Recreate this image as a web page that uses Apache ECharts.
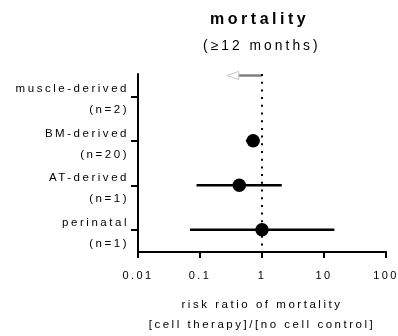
<!DOCTYPE html>
<html>
<head>
<meta charset="utf-8">
<script src="https://cdn.jsdelivr.net/npm/echarts@6/dist/echarts.min.js"></script>
<style>
  html, body { margin: 0; padding: 0; background: #fff; }
  #chart { width: 398px; height: 336px; }
</style>
</head>
<body>
<div id="chart"></div>
<script>
// Cell source groups and number of studies in each
const groups = ['muscle-derived', 'BM-derived', 'AT-derived', 'perinatal'];
const nStudies = [2, 20, 1, 1];

// Pooled risk ratios with 95% confidence limits (null = not estimable)
const riskRatio = [null, 0.72, 0.43, 1.0];
const ciLow = [null, 0.55, 0.088, 0.069];
const ciHigh = [null, 0.9, 2.08, 14.7];

// Off-scale estimate for muscle-derived cells: arrow from 1 toward this value
const offScaleFrom = [1, null, null, null];
const offScaleTo = [0.27, null, null, null];

const xTicks = [0.01, 0.1, 1, 10, 100];

const FONT = '"Liberation Sans", Arial, sans-serif';

// Loose tracking on all canvas text (0.22em)
const baseFillText = CanvasRenderingContext2D.prototype.fillText;
CanvasRenderingContext2D.prototype.fillText = function (text, x, y, maxWidth) {
  const m = /([\d.]+)px/.exec(this.font);
  if (m && 'letterSpacing' in this) this.letterSpacing = (parseFloat(m[1]) * 0.22).toFixed(2) + 'px';
  const r = maxWidth === undefined ? baseFillText.call(this, text, x, y) : baseFillText.call(this, text, x, y, maxWidth);
  if ('letterSpacing' in this) this.letterSpacing = '0px';
  return r;
};

const chart = echarts.init(document.getElementById('chart'), null, { renderer: 'canvas' });

const ciData = groups.map((g, i) => ciLow[i] == null ? null : [ciLow[i], ciHigh[i], i]).filter(Boolean);
const pointData = groups.map((g, i) => riskRatio[i] == null ? null : [riskRatio[i], i]).filter(Boolean);
const arrowData = groups.map((g, i) => offScaleFrom[i] == null ? null : [offScaleFrom[i], offScaleTo[i], i]).filter(Boolean);

const axisStroke = { color: '#000', width: 2 };

chart.setOption({
  animation: false,
  graphic: [{
    type: 'text',
    left: 210,
    top: 12,
    style: { text: 'mortality', font: 'bold 16px ' + FONT, fill: '#000' }
  }, {
    type: 'text',
    left: 203,
    top: 39,
    style: { text: '(≥12 months)', font: '13.8px ' + FONT, fill: '#000' }
  }],
  grid: { left: 138, right: 12, top: 74, bottom: 84, containLabel: false, outerBoundsMode: 'none' },
  xAxis: {
    type: 'log',
    logBase: 10,
    min: 0.01,
    max: 100,
    splitLine: { show: false },
    axisLine: { show: true, onZero: false, lineStyle: axisStroke },
    axisTick: { show: true, inside: false, length: 6, lineStyle: axisStroke },
    axisLabel: {
      margin: 18,
      fontFamily: FONT, fontSize: 11, color: '#000',
      formatter: v => String(xTicks.find(t => Math.abs(Math.log10(t) - Math.log10(v)) < 1e-6) ?? v)
    },
    name: 'risk ratio of mortality\n[cell therapy]/[no cell control]',
    nameLocation: 'middle',
    nameGap: 43,
    nameTextStyle: { fontFamily: FONT, fontSize: 11.5, color: '#000', lineHeight: 20 }
  },
  yAxis: {
    type: 'category',
    inverse: true,
    data: groups,
    axisLine: { show: true, onZero: false, lineStyle: axisStroke },
    axisTick: { show: true, inside: false, interval: 0, alignWithLabel: true, length: 7, lineStyle: axisStroke },
    axisLabel: {
      interval: 0,
      hideOverlap: false,
      margin: 9,
      fontFamily: FONT, fontSize: 11.5, color: '#000',
      // a thin spacer line above the two label lines nudges the block down a little
      formatter: (v, i) => '{gap| }\n{t|' + v + '}\n{t|(n=' + nStudies[i] + ')}',
      rich: {
        gap: { fontSize: 4, lineHeight: 7 },
        t: { fontFamily: FONT, fontSize: 11.5, color: '#000', lineHeight: 21 }
      }
    },
    splitLine: { show: false }
  },
  series: [{
    // confidence interval whiskers
    type: 'custom',
    data: ciData,
    renderItem: (params, api) => {
      const a = api.coord([api.value(0), api.value(2)]);
      const b = api.coord([api.value(1), api.value(2)]);
      return {
        type: 'line',
        shape: { x1: a[0], y1: a[1], x2: b[0], y2: b[1] },
        style: { stroke: '#000', lineWidth: 2.5 }
      };
    },
    z: 2
  }, {
    // off-scale estimate, drawn as an open arrow along the top of its row
    type: 'custom',
    data: arrowData,
    renderItem: (params, api) => {
      const band = api.size([0, 1])[1];
      const start = api.coord([api.value(0), api.value(2)]);
      const tip = api.coord([api.value(1), api.value(2)]);
      const y = start[1] - band / 2 + 1.5;
      const head = 12, half = 4;
      return {
        type: 'group',
        children: [{
          type: 'line',
          shape: { x1: start[0], y1: y, x2: tip[0] + head, y2: y },
          style: { stroke: '#7f7f7f', lineWidth: 2.5 }
        }, {
          type: 'polygon',
          shape: { points: [[tip[0], y], [tip[0] + head, y - half], [tip[0] + head, y + half]] },
          style: { fill: '#fff', stroke: '#c8c8c8', lineWidth: 1 }
        }]
      };
    },
    z: 3
  }, {
    // pooled estimates
    type: 'scatter',
    data: pointData,
    symbol: 'circle',
    symbolSize: 13.5,
    itemStyle: { color: '#000', opacity: 1 },
    z: 4,
    markLine: {
      silent: true,
      symbol: 'none',
      label: { show: false },
      lineStyle: { color: '#000', width: 2, type: [2, 5.7] },
      data: [{ xAxis: 1 }]
    }
  }]
});
</script>
</body>
</html>
